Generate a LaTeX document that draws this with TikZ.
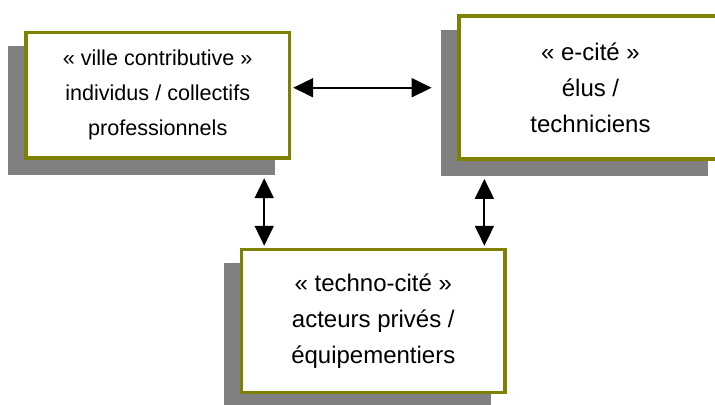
\documentclass[tikz,border=0pt]{standalone}
\usepackage{fontspec}
\setmainfont{Liberation Sans}
\usepackage{xcolor}
\usepackage{tikz}
\usetikzlibrary{arrows.meta,shadows}
\definecolor{frame}{HTML}{808000}
\definecolor{shade}{HTML}{808080}

\begin{document}
\begin{tikzpicture}[x=0.5pt,y=-0.5pt,
      every node/.style={font=\fontsize{12}{18}\selectfont},
      citybox/.style={draw=frame,fill=white,line width=1.75pt,minimum width=131.75pt,inner sep=0pt,align=center,
        drop shadow={shadow xshift=-8pt,shadow yshift=-7.75pt,fill=shade,draw=shade,line width=1.75pt,opacity=1}},
      arrow/.style={{Triangle[length=10pt,width=9.5pt]}-{Triangle[length=10pt,width=9.5pt]},line width=1pt}]
      \useasboundingbox (0,0) rectangle (715,404);
      \node[citybox,minimum height=62.75pt,font=\fontsize{10.8}{17.5}\selectfont] (contrib) at (157.7,95.3) {« ville contributive »\\individus / collectifs\\professionnels};
      \node[citybox,minimum height=71.5pt] (ecite) at (590.5,87.7) {« e-cité »\\élus /\\techniciens};
      \node[citybox,minimum height=71.5pt] (techno) at (373.3,320.8) {« techno-cité »\\acteurs privés /\\équipementiers};
      \draw[arrow] ([xshift=1pt]contrib.east |- ecite.west) -- ([xshift=-12.7pt]ecite.west);
      \draw[arrow] ([xshift=12.2pt,yshift=-9.2pt]techno.north west |- contrib.south) -- ([xshift=12.2pt,yshift=0.9pt]techno.north west);
      \draw[arrow] ([xshift=-11.2pt,yshift=-9pt]techno.north east |- ecite.south) -- ([xshift=-11.2pt,yshift=0.9pt]techno.north east);
    \end{tikzpicture}
\end{document}
